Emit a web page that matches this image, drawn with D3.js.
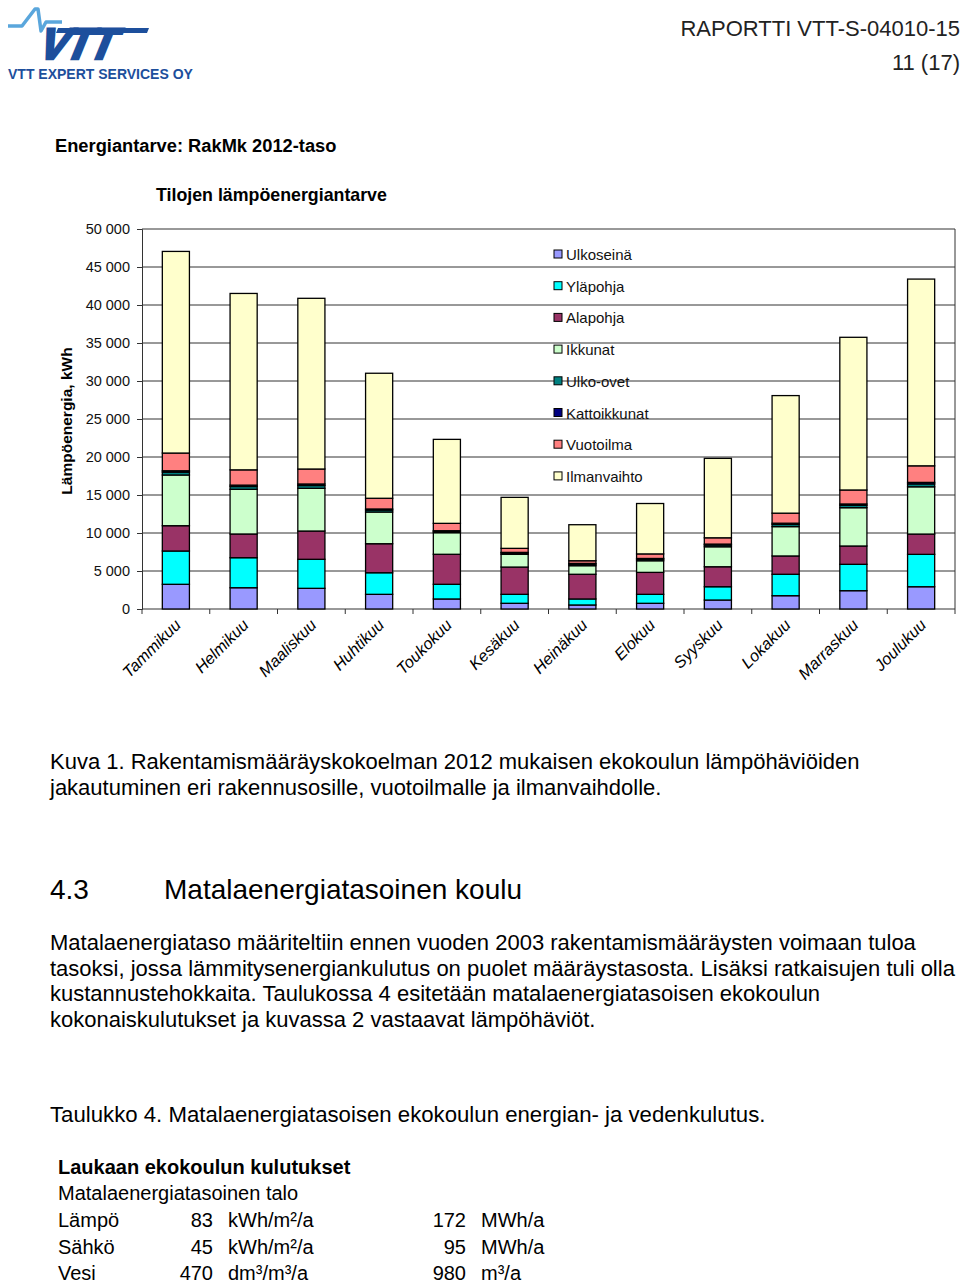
<!DOCTYPE html>
<html>
<head>
<meta charset="utf-8">
<script src="https://cdn.jsdelivr.net/npm/d3@7"></script>
<style>
  body { margin: 0; background: #fff; }
  svg { display: block; font-family: "Liberation Sans", Arial, sans-serif; }
</style>
</head>
<body>
<div id="page"></div>
<script>
// chart data (kWh per month)
const months = ["Tammikuu", "Helmikuu", "Maaliskuu", "Huhtikuu", "Toukokuu", "Kesäkuu",
                "Heinäkuu", "Elokuu", "Syyskuu", "Lokakuu", "Marraskuu", "Joulukuu"];
const seriesNames = ["Ulkoseinä", "Yläpohja", "Alapohja", "Ikkunat", "Ulko-ovet", "Kattoikkunat", "Vuotoilma", "Ilmanvaihto"];
const seriesColors = ["#9999ff", "#00ffff", "#993366", "#ccffcc", "#008080", "#000080", "#ff8080", "#ffffcc"];

const ulkoseina   = [3250, 2800, 2720, 1930, 1320,  750,  530,  750, 1180, 1750, 2410, 2930];
const ylapohja    = [4380, 3950, 3820, 2840, 1930, 1180,  790, 1180, 1750, 2820, 3470, 4260];
const alapohja    = [3330, 3120, 3720, 3820, 3950, 3590, 3250, 2890, 2630, 2410, 2410, 2670];
const ikkunat     = [6670, 5880, 5620, 4170, 2840, 1670, 1130, 1530, 2630, 3860, 5040, 6220];
const ulkoovet    = [ 380,  370,  370,  260,  170,  170,  190,  190,  230,  290,  320,  380];
const kattoikkunat= [ 180,  180,  200,  140,   90,   90,  110,  110,  120,  160,  170,  200];
const vuotoilma   = [2330, 2010, 1970, 1410,  970,  530,  350,  600,  830, 1320, 1840, 2180];
const ilmanvaihto = [26530, 23210, 22460, 16450, 11050, 6710, 4740, 6630, 10450, 15470, 20090, 24570];

const yTicks = [0, 5000, 10000, 15000, 20000, 25000, 30000, 35000, 40000, 45000, 50000];

// text content of the page
const captionLines = [
  "Kuva 1. Rakentamismääräyskokoelman 2012 mukaisen ekokoulun lämpöhäviöiden",
  "jakautuminen eri rakennusosille, vuotoilmalle ja ilmanvaihdolle."
];
const paragraphLines = [
  "Matalaenergiataso määriteltiin ennen vuoden 2003 rakentamismääräysten voimaan tuloa",
  "tasoksi, jossa lämmitysenergiankulutus on puolet määräystasosta. Lisäksi ratkaisujen tuli olla",
  "kustannustehokkaita. Taulukossa 4 esitetään matalaenergiatasoisen ekokoulun",
  "kokonaiskulutukset ja kuvassa 2 vastaavat lämpöhäviöt."
];
const tableRows = [
  ["Lämpö", "83", "kWh/m²/a", "172", "MWh/a"],
  ["Sähkö", "45", "kWh/m²/a", "95", "MWh/a"],
  ["Vesi", "470", "dm³/m³/a", "980", "m³/a"]
];

const W = 960, H = 1284;
const svg = d3.select("#page").append("svg").attr("width", W).attr("height", H);

// ---------- header / logo ----------
const logo = svg.append("g");
logo.append("path")
  .attr("d", "M8,26 L22,26 L35,9 L38,9 L41,31 L46,22 L62,22")
  .attr("fill", "none").attr("stroke", "#5aa6dc").attr("stroke-width", 3.5)
  .attr("stroke-linejoin", "round");
logo.append("path")
  .attr("d", "M58,28 L149,28 L147,33 L56,33 Z")
  .attr("fill", "#1d4f9c");
logo.append("text")
  .attr("x", 47).attr("y", 59)
  .attr("font-size", 44).attr("font-weight", "bold")
  .attr("fill", "#1d4f9c").attr("stroke", "#1d4f9c").attr("stroke-width", 2.5)
  .attr("letter-spacing", -3)
  .attr("transform", "translate(12,0) skewX(-22)")
  .text("VTT");
logo.append("text")
  .attr("x", 8).attr("y", 79)
  .attr("font-size", 14).attr("font-weight", "bold").attr("fill", "#1d4f9c")
  .text("VTT EXPERT SERVICES OY");

svg.append("text").attr("x", 960).attr("y", 36).attr("text-anchor", "end")
  .attr("font-size", 22).attr("fill", "#222").text("RAPORTTI VTT-S-04010-15");
svg.append("text").attr("x", 960).attr("y", 70).attr("text-anchor", "end")
  .attr("font-size", 22).attr("fill", "#222").text("11 (17)");

svg.append("text").attr("x", 55).attr("y", 152)
  .attr("font-size", 18.3).attr("font-weight", "bold").text("Energiantarve: RakMk 2012-taso");
svg.append("text").attr("x", 156).attr("y", 201)
  .attr("font-size", 17.8).attr("font-weight", "bold").text("Tilojen lämpöenergiantarve");

// ---------- chart ----------
const x = d3.scaleBand().domain(months).range([142, 955]).paddingInner(0.6).paddingOuter(0.3);
const y = d3.scaleLinear().domain([0, 50000]).range([609, 229]);

// gridlines
svg.append("g").selectAll("line").data(yTicks.filter(d => d > 0)).enter().append("line")
  .attr("x1", 142).attr("x2", 955)
  .attr("y1", d => y(d)).attr("y2", d => y(d))
  .attr("stroke", "#333").attr("stroke-width", 1);

// right border
svg.append("line").attr("x1", 955).attr("x2", 955).attr("y1", y(50000)).attr("y2", y(0))
  .attr("stroke", "#333").attr("stroke-width", 1);

// y axis
const yAxis = svg.append("g").attr("transform", "translate(142,0)")
  .call(d3.axisLeft(y).tickValues(yTicks).tickSize(5).tickPadding(7)
    .tickFormat(d => d3.format(",")(d).replace(/,/g, " ")));
yAxis.select(".domain").attr("stroke", "#333");
yAxis.selectAll(".tick line").attr("stroke", "#333");
yAxis.selectAll("text").attr("font-size", 14.5).attr("fill", "#111")
  .attr("font-family", "Liberation Sans, Arial, sans-serif");

svg.append("text")
  .attr("transform", `translate(72,${(y(0) + y(50000)) / 2 + 2}) rotate(-90)`)
  .attr("text-anchor", "middle").attr("font-size", 15.5).attr("font-weight", "bold")
  .text("Lämpöenergia, kWh");

// x axis line + ticks at category boundaries
svg.append("line").attr("x1", 142).attr("x2", 955).attr("y1", y(0)).attr("y2", y(0))
  .attr("stroke", "#333");
svg.append("g").selectAll("line").data(d3.range(months.length + 1)).enter().append("line")
  .attr("x1", i => 142 + i * ((955 - 142) / months.length))
  .attr("x2", i => 142 + i * ((955 - 142) / months.length))
  .attr("y1", y(0)).attr("y2", y(0) + 5)
  .attr("stroke", "#333");

// month labels
svg.append("g").selectAll("text").data(months).enter().append("text")
  .attr("transform", d => `translate(${x(d) + x.bandwidth() / 2 + 6},${y(0) + 17}) rotate(-45)`)
  .attr("text-anchor", "end").attr("font-size", 16.3).attr("font-style", "italic")
  .text(d => d);

// stacked bars
const allSeries = [ulkoseina, ylapohja, alapohja, ikkunat, ulkoovet, kattoikkunat, vuotoilma, ilmanvaihto];
const table = months.map((m, i) => {
  const row = { month: m };
  seriesNames.forEach((s, k) => { row[s] = allSeries[k][i]; });
  return row;
});
const stack = d3.stack().keys(seriesNames)(table);

svg.append("g").selectAll("g").data(stack).enter().append("g")
  .attr("fill", (d, k) => seriesColors[k])
  .selectAll("rect").data(d => d).enter().append("rect")
  .attr("x", d => x(d.data.month))
  .attr("width", x.bandwidth())
  .attr("y", d => y(d[1]))
  .attr("height", d => y(d[0]) - y(d[1]))
  .attr("stroke", "#000").attr("stroke-width", 1.3);

// legend
const legend = svg.append("g");
seriesNames.forEach((s, k) => {
  const ly = 255 + k * 31.7;
  legend.append("rect").attr("x", 554).attr("y", ly - 5).attr("width", 8).attr("height", 8)
    .attr("fill", seriesColors[k]).attr("stroke", "#000").attr("stroke-width", 1);
  legend.append("text").attr("x", 566).attr("y", ly + 5).attr("font-size", 15).attr("fill", "#111")
    .text(s);
});

// ---------- body text ----------
captionLines.forEach((t, i) => {
  svg.append("text").attr("x", 50).attr("y", 769 + i * 25.5).attr("font-size", 22).text(t);
});
svg.append("text").attr("x", 50).attr("y", 899).attr("font-size", 28).text("4.3");
svg.append("text").attr("x", 164).attr("y", 899).attr("font-size", 28).text("Matalaenergiatasoinen koulu");

paragraphLines.forEach((t, i) => {
  svg.append("text").attr("x", 50).attr("y", 950 + i * 25.7).attr("font-size", 22).text(t);
});

svg.append("text").attr("x", 50).attr("y", 1122).attr("font-size", 22.2)
  .text("Taulukko 4. Matalaenergiatasoisen ekokoulun energian- ja vedenkulutus.");

svg.append("text").attr("x", 58).attr("y", 1174).attr("font-size", 20).attr("font-weight", "bold")
  .text("Laukaan ekokoulun kulutukset");
svg.append("text").attr("x", 58).attr("y", 1200).attr("font-size", 20)
  .text("Matalaenergiatasoinen talo");
tableRows.forEach((r, i) => {
  const ty = 1227 + i * 26.5;
  svg.append("text").attr("x", 58).attr("y", ty).attr("font-size", 20).text(r[0]);
  svg.append("text").attr("x", 213).attr("y", ty).attr("font-size", 20).attr("text-anchor", "end").text(r[1]);
  svg.append("text").attr("x", 228).attr("y", ty).attr("font-size", 20).text(r[2]);
  svg.append("text").attr("x", 466).attr("y", ty).attr("font-size", 20).attr("text-anchor", "end").text(r[3]);
  svg.append("text").attr("x", 481).attr("y", ty).attr("font-size", 20).text(r[4]);
});
</script>
</body>
</html>
